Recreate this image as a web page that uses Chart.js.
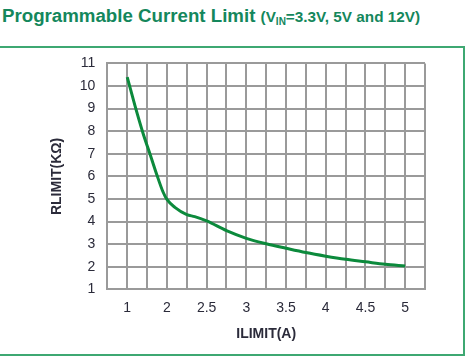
<!DOCTYPE html>
<html lang="en">
<head>
    <meta charset="UTF-8">
    <title>Programmable Current Limit</title>
    <script src="https://cdn.jsdelivr.net/npm/chart.js@4.4.1/dist/chart.umd.min.js"></script>
    <style>
      body { margin:0; width:466px; height:361px; background:#ffffff; position:relative; overflow:hidden; }
      #title {
        position:absolute; left:2px; top:5px; white-space:nowrap;
        font-family:'Liberation Sans', Arial, sans-serif; font-weight:bold; color:#14875c;
        font-size:18.7px;
      }
      #title .sub { font-size:15.3px; }
      #title sub { font-size:10px; vertical-align:-3px; }
      #box {
        position:absolute; left:-2px; top:46px; width:463px; height:306px;
        border:2px solid #3ea872;
      }
      #chart_box { position:absolute; left:0; top:43px; width:462px; height:311px; }
    </style>
</head>

<body>
    <div id="title">Programmable Current Limit <span class="sub">(V<sub>IN</sub>=3.3V, 5V and 12V)</span></div>
    <div id="box"></div>
    <div id="chart_box"><canvas id="rlimit_data"></canvas></div>
    <script>
        // x tick labels sit on every second grid line (as printed, 1 then 2, 2.5 ...)
        const xLabels = ['1', '2', '2.5', '3', '3.5', '4', '4.5', '5'];
        const yTicks = [1, 2, 3, 4, 5, 6, 7, 8, 9, 10, 11];

        // curve: ILIMIT (A) and RLIMIT (kOhm)
        const ilimit = [1, 1.2, 1.4, 1.6, 1.75, 1.9, 2, 2.1, 2.25, 2.35, 2.5, 2.75, 3, 3.25, 3.5, 3.75, 4, 4.25, 4.5, 4.75, 5];
        const rlimit = [10.39, 9.1, 7.9, 6.85, 6.05, 5.32, 4.98, 4.63, 4.31, 4.22, 4.03, 3.6, 3.26, 3.02, 2.82, 2.63, 2.47, 2.33, 2.22, 2.11, 2.04];

        // position on the printed axis: 1 -> 0, 2 -> 1, then 0.5 A per label
        function toPos(a) {
          return a <= 2 ? a - 1 : 1 + (a - 2) * 2;
        }

        const tickFont = { family: 'Liberation Sans', size: 14 };
        const titleFont = { family: 'Liberation Sans', size: 14, weight: 'bold' };

        var ctx = document.getElementById('rlimit_data').getContext('2d');
        var chart = new Chart(ctx, {
          type: 'line',
          data: {
            datasets: [{
              label: 'RLIMIT',
              data: ilimit.map((a, i) => ({ x: toPos(a), y: rlimit[i] })),
              borderColor: '#0c8a3c',
              backgroundColor: '#0c8a3c',
              borderWidth: 3,
              pointRadius: 0,
              fill: false,
              cubicInterpolationMode: 'monotone'
            }]
          },
          options: {
            animation: false,
            responsive: true,
            maintainAspectRatio: false,
            layout: { padding: { left: 45, right: 37, top: 0, bottom: 7 } },
            plugins: { legend: { display: false }, tooltip: { enabled: false } },
            scales: {
              x: {
                type: 'linear',
                min: -0.5,
                max: 7.5,
                border: { color: '#9a9a9a', width: 2 },
                grid: { color: '#9a9a9a', lineWidth: 2, drawTicks: false },
                ticks: {
                  stepSize: 0.5,
                  autoSkip: false,
                  maxRotation: 0,
                  padding: 10,
                  color: '#2b2b3a',
                  font: tickFont,
                  callback: v => Number.isInteger(v) && v >= 0 ? xLabels[v] : ''
                },
                title: { display: true, text: 'ILIMIT(A)', color: '#2b2b3a', font: titleFont, padding: { top: 0 } }
              },
              y: {
                type: 'linear',
                min: yTicks[0],
                max: yTicks[yTicks.length - 1],
                border: { color: '#9a9a9a', width: 2 },
                grid: { color: '#9a9a9a', lineWidth: 2, drawTicks: false },
                ticks: {
                  stepSize: 1,
                  padding: 12,
                  color: '#2b2b3a',
                  font: tickFont
                },
                title: { display: true, text: 'RLIMIT(KΩ)', color: '#2b2b3a', font: titleFont, padding: { bottom: 2 } }
              }
            }
          }
        });
    </script>
</body>

</html>
